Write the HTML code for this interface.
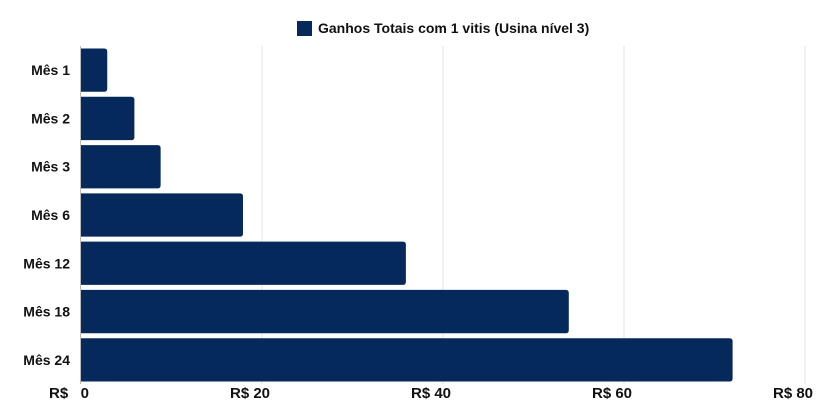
<!DOCTYPE html>
<html><head><meta charset="utf-8"><style>
body{margin:0;background:#fff;}
svg text{font-family:"Liberation Sans",sans-serif;font-weight:bold;fill:#111;}
</style></head><body>
<svg id="c" width="836" height="413"></svg>
<script>
const categories=["Mês 1","Mês 2","Mês 3","Mês 6","Mês 12","Mês 18","Mês 24"];
const values=[2.9,5.9,8.8,17.9,35.9,53.9,72.0];
const ticks=[0,20,40,60,80];
const tickLabels=["R$\u00a0\u00a0\u00a00","R$ 20","R$ 40","R$ 60","R$ 80"];
const svg=document.getElementById('c');
const NS="http://www.w3.org/2000/svg";
const x0=81,x1=805,xmax=80,plotTop=46,plotBottom=384;
const xs=v=>x0+v/xmax*(x1-x0);
const band=(plotBottom-plotTop)/categories.length;
const ys=i=>plotTop+i*band;
function mk(t,a){const e=document.createElementNS(NS,t);for(const k in a)e.setAttribute(k,a[k]);svg.appendChild(e);return e;}
ticks.forEach((t,i)=>{
  if(t>0){const g=mk('line',{x1:xs(t),x2:xs(t),y1:plotTop,y2:plotBottom,stroke:'#e3e3e3','stroke-width':1});
  
  }
  const l=mk('text',{x:xs(t)-12,y:398,'text-anchor':'middle','font-size':15});
  l.textContent=tickLabels[i];
  
  
});
categories.forEach((c,i)=>{
  const r=mk('path',{fill:'#05295a'});
  const y=ys(i)+2.5,h=band-5,x=x0,w=xs(values[i])-x0,rr=3;
  r.setAttribute('d',`M${x},${y}H${x+w-rr}Q${x+w},${y} ${x+w},${y+rr}V${y+h-rr}Q${x+w},${y+h} ${x+w-rr},${y+h}H${x}Z`);
  
  
  const l=mk('text',{x:70,y:ys(i)+band/2+5,'text-anchor':'end','font-size':14});
  l.textContent=c;
  
  
});
const ax=mk('line',{x1:80.5,x2:80.5,y1:plotTop,y2:plotBottom,stroke:'#bbb','stroke-width':1});


const sw=mk('rect',{x:297,y:21,width:15,height:15,fill:'#05295a'});


const lt=mk('text',{x:318,y:33,'font-size':14});
lt.textContent="Ganhos Totais com 1 vitis (Usina nível 3)";


</script>
</body></html>
